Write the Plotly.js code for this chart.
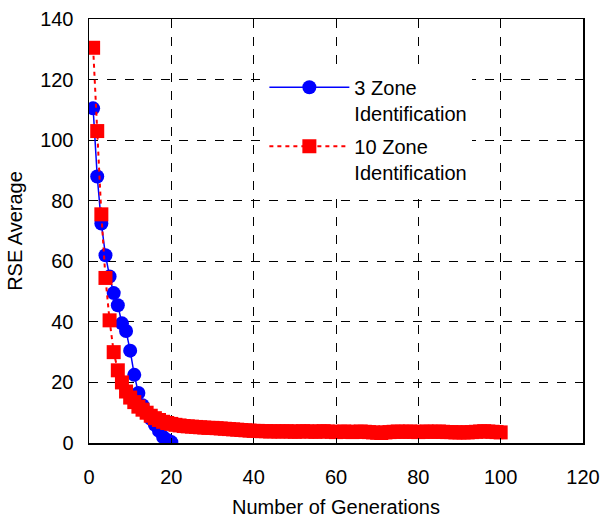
<!DOCTYPE html>
<html>
<head>
<meta charset="utf-8">
<script src="https://cdn.plot.ly/plotly-3.0.1.min.js"></script>
<style>html,body{margin:0;padding:0;background:#fff;}#chart{width:602px;height:521px;}</style>
</head>
<body>
<div id="chart"></div>
<script>
const zone3Gen = [1,2,3,4,5,6,7,8,9,10,11,12,13,14,15,16,17,18,19,20];
const zone3RSE = [110.5,88,72.5,62,55,49.5,45.5,39.5,37,30.5,22.5,16.5,12.5,10,8,6,4,2,1,0.3];

const zone10Gen = [];
for (let i = 1; i <= 100; i++) zone10Gen.push(i);
const zone10RSE = [
  130.5,103,75.5,54.5,40.5,30,24,20,17,15,
  13.5,12,11,10,9,8.2,7.6,7,6.6,6.3,
  6,5.8,5.6,5.5,5.4,5.3,5.2,5.1,5.0,5.0,
  4.9,4.8,4.7,4.6,4.5,4.4,4.3,4.2,4.1,4.0,
  4.0,3.9,3.9,3.8,3.9,3.8,3.8,3.9,3.8,3.7,
  3.8,3.9,3.8,3.8,3.7,3.8,3.9,3.8,3.7,3.6,
  3.7,3.8,3.7,3.6,3.7,3.8,3.7,3.6,3.5,3.4,
  3.3,3.5,3.6,3.7,3.8,3.7,3.7,3.8,3.7,3.6,
  3.7,3.8,3.7,3.7,3.8,3.7,3.6,3.6,3.5,3.5,
  3.5,3.5,3.6,3.7,3.8,3.9,3.8,3.7,3.6,3.5
];

const seriesNames = ['3 Zone<br>Identification', '10 Zone<br>Identification'];
const xTicks = [0,20,40,60,80,100,120];
const yTicks = [0,20,40,60,80,100,120,140];

const font = {family: 'Arial, Liberation Sans, sans-serif', size: 20, color: '#000'};

const traces = [
  {
    x: zone3Gen, y: zone3RSE, name: seriesNames[0], legendgroup: 'g3',
    type: 'scatter', mode: 'lines+markers',
    line: {color: '#0000ff', width: 1.5},
    marker: {symbol: 'circle', size: 14, color: '#0000ff'}
  },
  {
    x: zone10Gen, y: zone10RSE, name: seriesNames[1], legendgroup: 'g10',
    type: 'scatter', mode: 'lines+markers',
    line: {color: '#ff0000', width: 2, dash: '4px,4px'},
    marker: {symbol: 'square', size: 14, color: '#ff0000'}
  }
];

const axisCommon = {
  showline: true, linecolor: '#000', linewidth: 1.5, mirror: true,
  showgrid: true, gridcolor: '#000', gridwidth: 1, griddash: 'dash',
  zeroline: false, ticks: 'inside', ticklen: 5, tickcolor: '#000',
  tickfont: font
};

const layout = {
  width: 602, height: 521,
  margin: {l: 89, r: 19, t: 19, b: 78},
  paper_bgcolor: '#fff', plot_bgcolor: '#fff',
  font: font,
  showlegend: true,
  legend: {
    x: 0.355, y: 0.885, xanchor: 'left', yanchor: 'top',
    bgcolor: '#ffffff', itemwidth: 80, valign: 'top', entrywidth: 215,
    font: font, tracegroupgap: 4
  },
  xaxis: Object.assign({}, axisCommon, {
    range: [0, 120], tickvals: xTicks, ticktext: xTicks.map(String),
    ticklabelstandoff: 15,
    title: {text: 'Number of Generations', font: font, standoff: 13}
  }),
  yaxis: Object.assign({}, axisCommon, {
    range: [0, 140], tickvals: yTicks, ticktext: yTicks.map(String),
    ticklabelstandoff: 10,
    title: {text: 'RSE Average', font: font, standoff: 12}
  })
};

Plotly.newPlot('chart', traces, layout, {displayModeBar: false, staticPlot: true});
</script>
</body>
</html>
